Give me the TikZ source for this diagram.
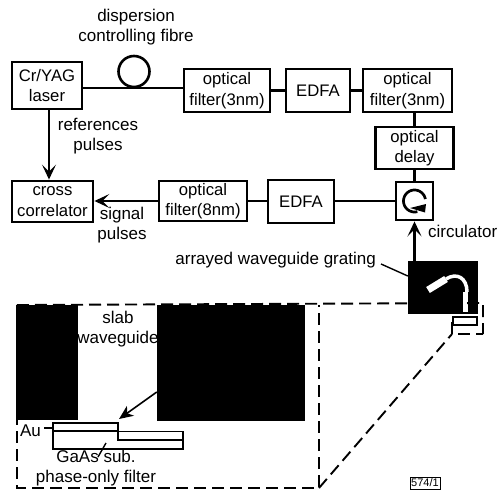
\documentclass[tikz,border=0pt]{standalone}
\usepackage{fontspec}
\setmainfont{Liberation Sans}
\usetikzlibrary{arrows.meta}
\tikzset{
  x=1bp,y=-1bp,
  lab/.style={inner sep=0pt,align=center,font=\fontsize{17bp}{20bp}\selectfont},
  box/.style={draw=black,line width=2.9bp,inner sep=0pt,align=center,font=\fontsize{16.7bp}{20.5bp}\selectfont},
  wire/.style={draw=black,line width=2.2bp},
  tiparrow/.style={line width=2.7bp,-{Stealth[length=15bp,width=14bp,inset=7bp]}},
  thinarrow/.style={line width=1.6bp,-{Stealth[length=14bp,width=12bp,inset=4bp]}},
  dashline/.style={draw=black,line width=1.9bp,dash pattern=on 12bp off 6bp},
  leader/.style={draw=black,line width=1.4bp},
}
\begin{document}
\begin{tikzpicture}
\useasboundingbox (0,0) rectangle (498,491);
% boxes
\node[box,minimum width=70bp,minimum height=47bp] (laser) at (47,85.5) {Cr/YAG\\laser};
\node[box,circle,minimum size=31bp,line width=2.6bp] (loop) at (134,71.5) {};
\node[box,minimum width=86bp,minimum height=43bp] (fa) at (227,90.5) {optical\\filter(3nm)};
\node[box,minimum width=64bp,minimum height=43bp] (edfaa) at (318,90.5) {EDFA};
\node[box,minimum width=89bp,minimum height=43bp] (fb) at (407.5,90.5) {optical\\filter(3nm)};
\node[box,minimum width=78bp,minimum height=42bp] (delay) at (414.5,148) {optical\\delay};
\node[box,minimum width=37bp,minimum height=38bp] (circ) at (414.5,201) {};
\node[box,minimum width=66bp,minimum height=43bp] (edfab) at (301,201.5) {EDFA};
\node[box,minimum width=88bp,minimum height=40bp] (fc) at (203,201) {optical\\filter(8nm)};
\node[box,minimum width=81bp,minimum height=41bp] (corr) at (52.5,201.5) {cross\\correlator};
% chip and enlarged view
\node[fill=black,inner sep=0pt,minimum width=70bp,minimum height=53bp] (chip) at (443,287.5) {};
\node[fill=black,inner sep=0pt,minimum width=62bp,minimum height=115bp] (blocka) at (47,362.5) {};
\node[fill=black,inner sep=0pt,minimum width=148bp,minimum height=116bp] (blockb) at (231,363) {};
% connectors
\draw[wire] (laser.east |- loop.south) -- (fa.west |- loop.south);
\draw[wire] (fa) -- (edfaa);
\draw[wire] (edfaa) -- (fb);
\draw[wire] (delay.north) -- (delay.north |- fb.south);
\draw[wire] (delay) -- (circ);
\draw[wire] (circ.west) -- (edfab.east |- circ.west);
\draw[wire] (edfab.west |- fc.east) -- (fc.east);
\draw[tiparrow] (laser.south -| 49,0) -- (corr.north -| 49,0);
\draw[tiparrow] (fc.west) -- (corr.east |- fc.west);
\draw[tiparrow] (chip.north -| circ.south) -- (circ.south);
% circulator symbol
\draw[black,line width=2.7bp,domain=10:285,samples=40,smooth] plot ({414.5+11*cos(\x)},{201-11*sin(\x)});
\fill[black] (410,208) -- (426,204) -- (425,212.5) -- cycle;
% waveguide on chip
\draw[white,line width=7bp] (428,290) -- (446,279);
\draw[white,line width=3.5bp] (446,279) .. controls (457,272) and (467,278) .. (467,292);
\fill[white] (462.5,292) rectangle (468,312);
\coordinate (ma) at (453,317);
\coordinate (mb) at (477,325);
\draw[black,fill=white,line width=2.4bp] (ma) rectangle (mb);
% dashed outlines
\coordinate (tl) at (17,305);
\coordinate (tr) at (319,305);
\coordinate (bl) at (17,488);
\coordinate (br) at (319,488);
\coordinate (sa) at (483,303);
\coordinate (sb) at (483,334);
\coordinate (sc) at (452,334);
\coordinate (sd) at (452,322);
\draw[dashline] (tl) -- (sa) -- (sb);
\draw[dashline] (sd) -- (sc) -- (sb);
\draw[dashline] (tl) -- (bl) -- (br) -- (tr);
\draw[dashline] (br) -- (sc);
% phase filter
\draw[black,line width=2.7bp,line join=miter] (53,423) -- (118,423) -- (118,440) -- (183,440) -- (183,449) -- (53,449) -- cycle;
\draw[black,line width=2.1bp] (53,431) -- (118,431);
\draw[black,line width=1.3bp] (118,431.5) -- (183,431.5) -- (183,440);
% labels
\node[lab] (tdisp) at (136,27) {dispersion\\controlling fibre};
\node[lab] (tref) at (98,136) {references\\pulses};
\node[lab] (tsig) at (122,225) {signal\\pulses};
\node[lab,anchor=west] (tcirc) at (428,231) {circulator};
\node[lab,anchor=east] (tawg) at (376,260) {arrayed waveguide grating};
\node[lab] (tslab) at (118,329) {slab\\waveguide};
\node[lab,anchor=east] (tau) at (41,431) {Au};
\node[lab] (tgaas) at (96,468) {GaAs sub.\\phase-only filter};
\node[draw=black,line width=.8bp,inner sep=0pt,minimum width=30bp,minimum height=12bp,font=\fontsize{11bp}{12bp}\selectfont] (tag) at (425,483) {574/1};
% leaders
\coordinate (wgp) at (119,419);
\draw[thinarrow] (blockb.west |- 0,392) -- (wgp);
\draw[leader] (tawg.east) ++(5,4) -- (chip.west |- 0,276);
\draw[leader] (tau.east) ++(3,-3) -- (53,428);
\draw[leader] (98,457) -- (106,443);
\end{tikzpicture}
\end{document}
